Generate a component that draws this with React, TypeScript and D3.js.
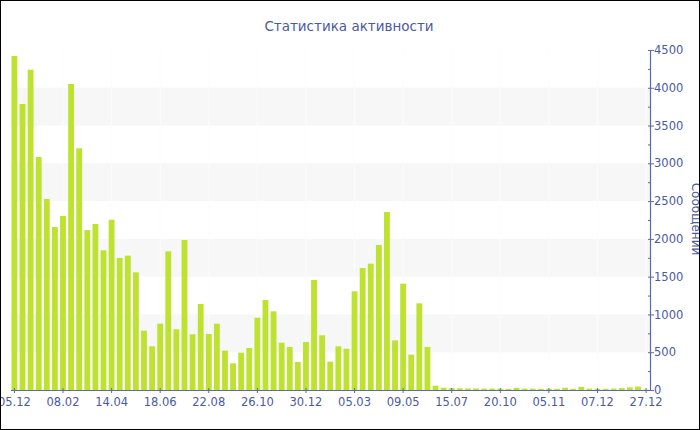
import React from "react";
import * as d3 from "d3";

const title = "Статистика активности";
const yTitle = "Сообщений";

const values: number[] = [
  4420, 3785, 4239, 3084, 2528, 2157, 2303, 4050, 3199, 2117,
  2197, 1849, 2254, 1747, 1778, 1557, 785, 578, 878, 1835,
  803, 1985, 737, 1138, 741, 878, 521, 353, 494, 556,
  957, 1191, 1041, 626, 569, 371, 635, 1456, 724, 375,
  578, 547, 1306, 1615, 1672, 1919, 2355, 657, 1407, 468,
  1147, 569, 57, 30, 25, 22, 20, 20, 18, 18,
  18, 15, 28, 18, 18, 15, 15, 15, 30, 15,
  40, 18, 15, 15, 18, 25, 35, 45, 5,
];

const tickLabels: string[] = [
  "05.12", "08.02", "14.04", "18.06", "22.08", "26.10", "30.12",
  "05.03", "09.05", "15.07", "20.10", "05.11", "07.12", "27.12",
];
const tickEvery = 6;

const yMajor = [0, 500, 1000, 1500, 2000, 2500, 3000, 3500, 4000, 4500];
const bandPairs: [number, number][] = [[500, 1000], [1500, 2000], [2500, 3000], [3500, 4000]];

const W = 700;
const H = 430;
const left = 11;
const right = 650;
const top = 50;
const bottom = 390;

const textColor = "#4a5aa0";
const axisColor = "#5b6aac";
const barColor = "#bde22f";
const font = "'DejaVu Sans', Verdana, sans-serif";

export default function App() {
  const idx = values.map((_, i) => i);
  const x = d3.scaleBand<number>().domain(idx).range([11.5, 649]).paddingInner(0.28).paddingOuter(0);
  const y = d3.scaleLinear().domain([0, 4500]).range([bottom, top]);
  const minor = d3.range(250, 4500, 500);
  const tickIdx = tickLabels.map((_, i) => i * tickEvery);
  const cx = (i: number) => (x(i) ?? 0) + x.bandwidth() / 2;

  return (
    <svg
      width={W}
      height={H}
      style={{ position: "fixed", left: 0, top: 0, background: "#fff" }}
    >
      <rect x={0} y={0} width={W} height={H} fill="#fff" />
      {bandPairs.map(([a, b], i) => (
        <rect key={"b" + i} x={left} y={y(b)} width={right - left} height={y(a) - y(b)} fill="#f7f7f7" />
      ))}
      {tickIdx.map((ti, i) => (
        <line key={"vg" + i} x1={cx(ti)} x2={cx(ti)} y1={top} y2={bottom} stroke="#fcfcfc" strokeWidth={1} />
      ))}
      {values.map((v, i) => (
        <rect key={"r" + i} x={x(i)} y={y(v)} width={x.bandwidth()} height={bottom - y(v)} fill={barColor} />
      ))}
      {/* x axis */}
      <line x1={left} x2={right} y1={bottom + 0.5} y2={bottom + 0.5} stroke={axisColor} strokeWidth={1.2} />
      {tickIdx.map((ti, i) => (
        <g key={"xt" + i}>
          <line x1={cx(ti)} x2={cx(ti)} y1={bottom - 2} y2={bottom + 3} stroke={axisColor} />
          <text x={cx(ti)} y={bottom + 16} textAnchor="middle" fontFamily={font} fontSize={11.5} fill={textColor}>
            {tickLabels[i]}
          </text>
        </g>
      ))}
      {/* y axis */}
      <line x1={right + 0.5} x2={right + 0.5} y1={top} y2={bottom + 1} stroke={axisColor} strokeWidth={1.2} />
      {minor.map((m, i) => (
        <line key={"ym" + i} x1={right - 2} x2={right + 0.5} y1={y(m) + 0.5} y2={y(m) + 0.5} stroke={axisColor} />
      ))}
      {yMajor.map((m, i) => (
        <g key={"yt" + i}>
          <line x1={right - 2} x2={right + 4} y1={y(m) + 0.5} y2={y(m) + 0.5} stroke={axisColor} />
          <text x={right + 4} y={y(m)} dy="0.36em" fontFamily={font} fontSize={11.5} fill={textColor}>
            {m}
          </text>
        </g>
      ))}
      <text
        transform={`translate(692, 219) rotate(90)`}
        textAnchor="middle"
        fontFamily={font}
        fontSize={12}
        fill={textColor}
      >
        {yTitle}
      </text>
      <text x={349} y={31} textAnchor="middle" fontFamily={font} fontSize={13.5} fill={textColor}>
        {title}
      </text>
      <rect x={0.5} y={0.5} width={W - 1} height={H - 1} fill="none" stroke="#000" strokeWidth={1} />
    </svg>
  );
}
